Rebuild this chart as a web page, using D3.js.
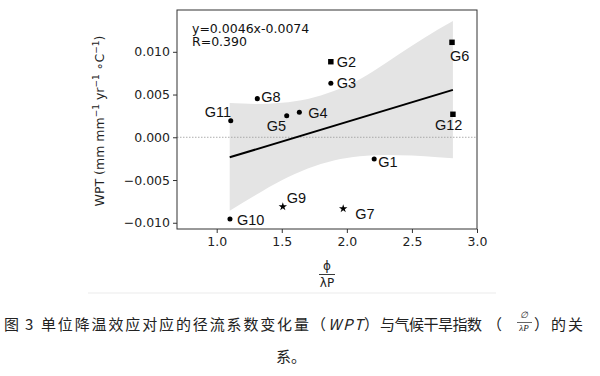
<!DOCTYPE html>
<html>
<head>
<meta charset="utf-8">
<script src="https://cdn.jsdelivr.net/npm/d3@7"></script>
<style>
  body { margin: 0; background: #fff; }
  svg { display: block; }
  .axis text { font-family: "DejaVu Sans", sans-serif; font-size: 12.5px; fill: #222; }
  .axis path, .axis line { stroke: #333; }
  .lbl { font-family: "Liberation Sans", Arial, sans-serif; font-size: 14.5px; fill: #111; }
  .cap { font-family: "Noto Sans CJK SC", sans-serif; font-size: 15px; fill: #222; }
</style>
</head>
<body>
<div id="chart"></div>
<script>
// site names, aridity index (phi / lambda P) and WPT
var sites = ["G1", "G2", "G3", "G4", "G5", "G6", "G7", "G8", "G9", "G10", "G11", "G12"];
var aridity = [2.21, 1.877, 1.877, 1.635, 1.538, 2.808, 1.972, 1.312, 1.508, 1.102, 1.108, 2.815];
var wpt = [-0.00254, 0.00884, 0.00632, 0.00293, 0.00253, 0.01111, -0.00835, 0.00452, -0.00811, -0.00955, 0.00194, 0.00269];
var shapes = ["circle", "square", "circle", "circle", "circle", "square", "star", "circle", "star", "circle", "circle", "square"];

// fitted line y=0.0046x-0.0074 and its confidence band
var fitX = [1.10, 2.815];
var fitY = [-0.00234, 0.00555];
var bandX = [1.10, 1.30, 1.50, 1.70, 1.90, 2.10, 2.30, 2.50, 2.70, 2.815];
var bandUpper = [0.0040, 0.0039, 0.00404, 0.00449, 0.0054, 0.0068, 0.0087, 0.0107, 0.0126, 0.0136];
var bandLower = [-0.0086, -0.00676, -0.00504, -0.00365, -0.00271, -0.00222, -0.00207, -0.00213, -0.00233, -0.00245];

var xTicks = [1.0, 1.5, 2.0, 2.5, 3.0];
var yTicks = [-0.010, -0.005, 0.000, 0.005, 0.010];

// label offsets from each point, in px
var labelOffset = {
  G1: [4, 8], G2: [6, 5], G3: [6, 5], G4: [9, 6], G5: [-20, 15], G6: [-2, 19],
  G7: [12, 10], G8: [4, 3], G9: [4, -4], G10: [7, 6], G11: [-26, -4], G12: [-18, 16]
};

var width = 600, height = 376;
var margin = {top: 10, left: 177};
var chartWidth = 300, chartHeight = 219;

var svg = d3.select('#chart').append('svg')
    .attr('width', width)
    .attr('height', height);

var g = svg.append('g')
    .attr('transform', `translate(${margin.left}, ${margin.top})`);

var xScale = d3.scaleLinear().domain([0.695, 3.0]).range([0, chartWidth]);
var yScale = d3.scaleLinear().domain([-0.01073, 0.01489]).range([chartHeight, 0]);

// confidence band
var band = bandX.map((x, i) => ({x: x, hi: bandUpper[i], lo: bandLower[i]}));
g.append('path')
    .datum(band)
    .attr('fill', '#e4e4e4')
    .attr('d', d3.area()
        .x(d => xScale(d.x))
        .y0(d => yScale(d.lo))
        .y1(d => yScale(d.hi))
        .curve(d3.curveMonotoneX));

// zero line
g.append('line')
    .attr('x1', 0).attr('x2', chartWidth)
    .attr('y1', yScale(0)).attr('y2', yScale(0))
    .attr('stroke', '#999')
    .attr('stroke-width', 0.8)
    .attr('stroke-dasharray', '1.5,1.5');

// regression line
g.append('line')
    .attr('x1', xScale(fitX[0])).attr('y1', yScale(fitY[0]))
    .attr('x2', xScale(fitX[1])).attr('y2', yScale(fitY[1]))
    .attr('stroke', '#000')
    .attr('stroke-width', 2);

// axes
g.append('g')
    .attr('class', 'axis')
    .attr('transform', `translate(0,${chartHeight})`)
    .call(d3.axisBottom(xScale).tickValues(xTicks).tickFormat(d3.format('.1f')).tickSize(4).tickPadding(4))
    .call(s => s.select('.domain').remove());

g.append('g')
    .attr('class', 'axis')
    .call(d3.axisLeft(yScale).tickValues(yTicks).tickFormat(d3.format('.3f')).tickSize(4).tickPadding(3))
    .call(s => s.select('.domain').remove())
    .selectAll('text')
    .text(d => d3.format('.3f')(d).replace('-', '\u2212'));

// frame
g.append('rect')
    .attr('width', chartWidth)
    .attr('height', chartHeight)
    .attr('fill', 'none')
    .attr('stroke', '#333')
    .attr('stroke-width', 1);

// points
var symbolType = {circle: d3.symbolCircle, square: d3.symbolSquare, star: d3.symbolStar};
var symbolSize = {circle: 20, square: 30, star: 22};

var pts = g.selectAll('.pt')
    .data(sites)
    .enter()
    .append('g')
    .attr('class', 'pt')
    .attr('transform', (d, i) => `translate(${xScale(aridity[i])},${yScale(wpt[i])})`);

pts.append('path')
    .attr('d', (d, i) => d3.symbol().type(symbolType[shapes[i]]).size(symbolSize[shapes[i]])())
    .attr('fill', '#000');

pts.append('text')
    .attr('class', 'lbl')
    .attr('x', d => labelOffset[d][0])
    .attr('y', d => labelOffset[d][1])
    .text(d => d);

// equation
var eq = g.append('text')
    .attr('font-family', 'DejaVu Sans, sans-serif')
    .attr('font-size', '12.5px')
    .attr('fill', '#111');
eq.append('tspan').attr('x', 15).attr('y', 22.5).text('y=0.0046x-0.0074');
eq.append('tspan').attr('x', 15).attr('y', 36).text('R=0.390');

// y axis title
var yt = svg.append('text')
    .attr('transform', 'translate(104,121) rotate(-90)')
    .attr('text-anchor', 'middle')
    .attr('font-family', 'DejaVu Sans, sans-serif')
    .attr('font-size', '12.5px')
    .attr('fill', '#222');
yt.append('tspan').text('WPT (mm mm');
yt.append('tspan').attr('font-size', '9px').attr('dy', -5).text('\u22121');
yt.append('tspan').attr('dy', 5).text(' yr');
yt.append('tspan').attr('font-size', '9px').attr('dy', -5).text('\u22121');
yt.append('tspan').attr('dy', 5).text(' \u2218C');
yt.append('tspan').attr('font-size', '9px').attr('dy', -5).text('\u22121');
yt.append('tspan').attr('dy', 5).text(')');

// x axis title as a fraction
var fx = 327;
svg.append('text')
    .attr('x', fx).attr('y', 270)
    .attr('text-anchor', 'middle')
    .attr('font-family', 'DejaVu Sans, sans-serif')
    .attr('font-size', '12px')
    .attr('fill', '#222')
    .text('\u03d5');
svg.append('line')
    .attr('x1', fx - 8).attr('x2', fx + 8)
    .attr('y1', 274.5).attr('y2', 274.5)
    .attr('stroke', '#222').attr('stroke-width', 0.9);
svg.append('text')
    .attr('x', fx).attr('y', 287)
    .attr('text-anchor', 'middle')
    .attr('font-family', 'DejaVu Sans, sans-serif')
    .attr('font-size', '12px')
    .attr('fill', '#222')
    .text('\u03bbP');

// faint separator under the figure
svg.append('line')
    .attr('x1', 88).attr('x2', 496)
    .attr('y1', 293).attr('y2', 293)
    .attr('stroke', '#f2f2f2').attr('stroke-width', 1.5);

// caption
function capText(x, y, s, len, extra) {
  var t = svg.append('text')
      .attr('class', 'cap')
      .attr('x', x).attr('y', y)
      .text(s);
  if (len) t.attr('textLength', len).attr('lengthAdjust', 'spacing');
  if (extra) extra(t);
  return t;
}
var cy = 330;
capText(4, cy, '\u56fe', 0);
capText(25, cy, '3', 0, t => t.attr('font-family', 'Liberation Serif, serif').attr('font-size', '15px'));
capText(41, cy, '\u5355\u4f4d\u964d\u6e29\u6548\u5e94\u5bf9\u5e94\u7684\u5f84\u6d41\u7cfb\u6570\u53d8\u5316\u91cf', 268);
capText(311, cy, '\uff08', 0);
capText(328, cy, 'WPT', 35, t => t.attr('font-family', 'Liberation Serif, serif').attr('font-style', 'italic').attr('font-size', '15px'));
capText(364, cy, '\uff09', 0);
capText(380, cy, '\u4e0e\u6c14\u5019\u5e72\u65f1\u6307\u6570', 102);
capText(487, cy, '\uff08', 0);
svg.append('text')
    .attr('x', 524).attr('y', 318)
    .attr('text-anchor', 'middle')
    .attr('font-family', 'Liberation Serif, serif')
    .attr('font-style', 'italic')
    .attr('font-size', '9px')
    .attr('fill', '#222')
    .text('\u2205');
svg.append('line')
    .attr('x1', 517).attr('x2', 532)
    .attr('y1', 322.5).attr('y2', 322.5)
    .attr('stroke', '#222').attr('stroke-width', 0.7);
svg.append('text')
    .attr('x', 524).attr('y', 331)
    .attr('text-anchor', 'middle')
    .attr('font-family', 'Liberation Serif, serif')
    .attr('font-style', 'italic')
    .attr('font-size', '9px')
    .attr('fill', '#222')
    .text('\u03bbP');
capText(534, cy, '\uff09', 0);
capText(551, cy, '\u7684\u5173', 32);
capText(276, 362, '\u7cfb\u3002', 0);
</script>
</body>
</html>
